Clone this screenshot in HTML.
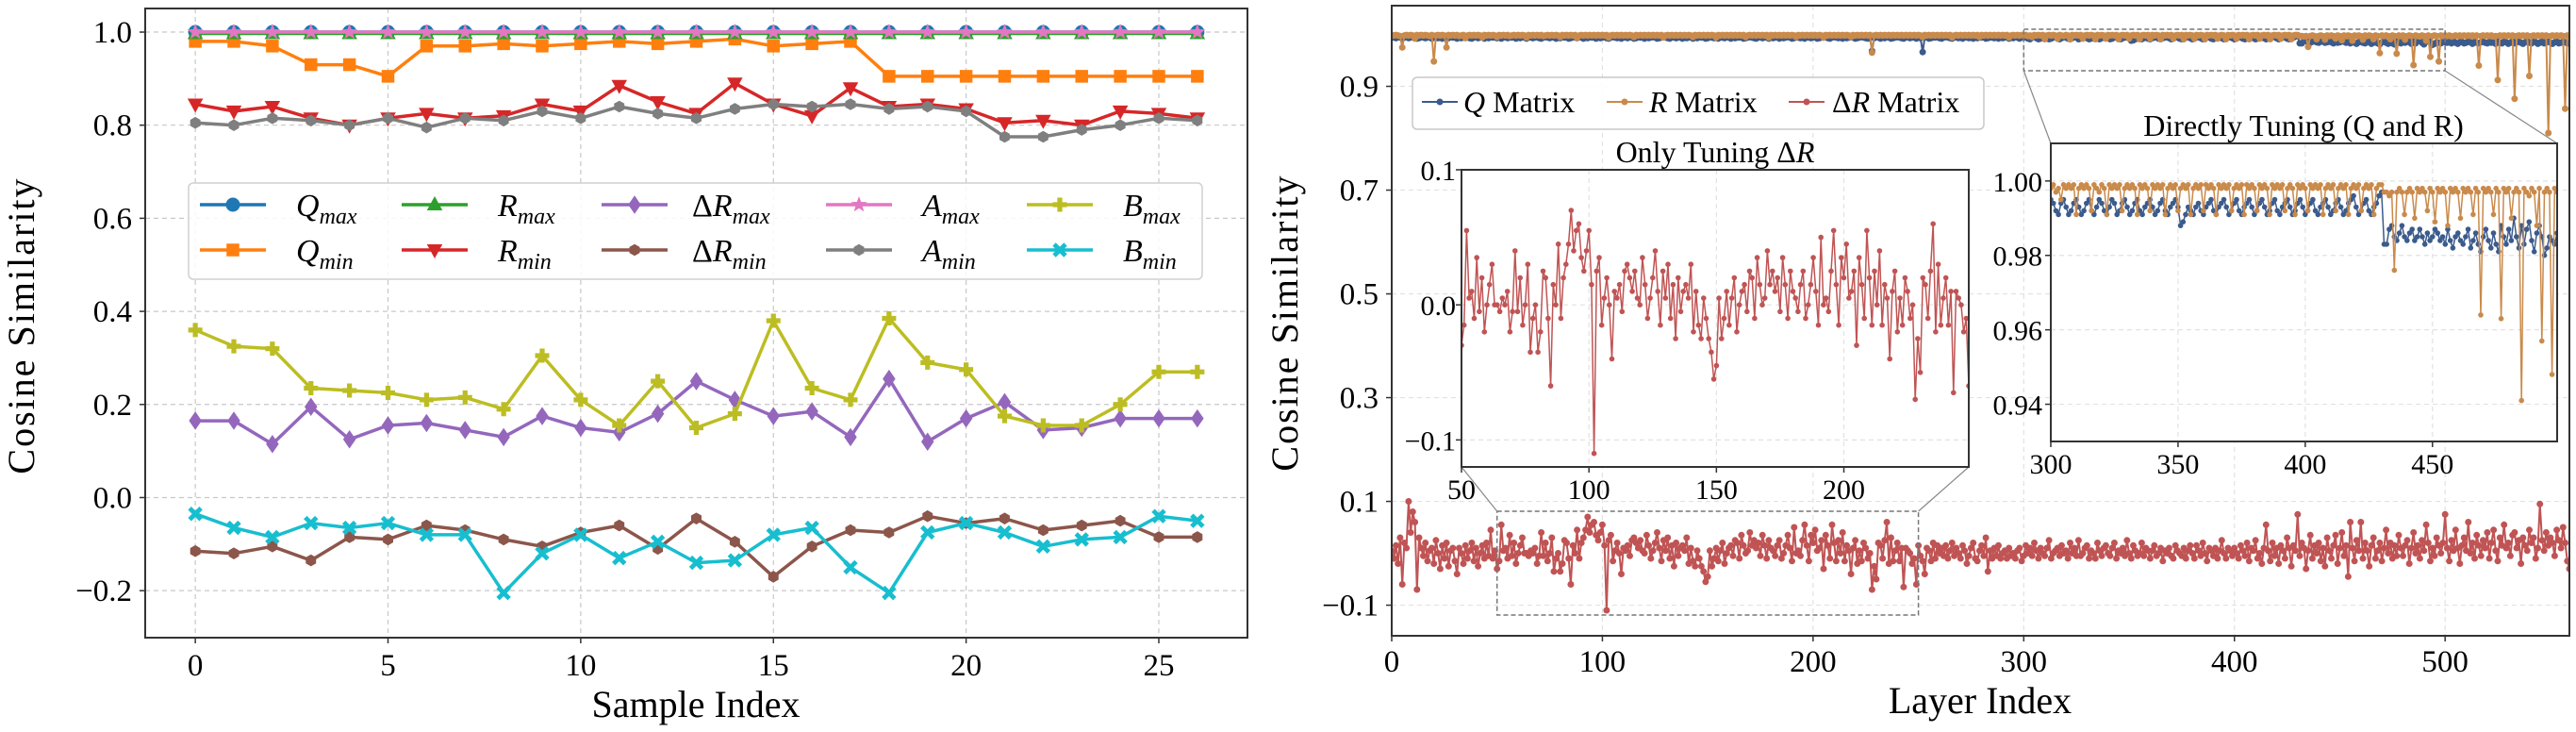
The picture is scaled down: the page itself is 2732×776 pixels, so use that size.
<!DOCTYPE html>
<html><head><meta charset="utf-8"><title>Cosine Similarity</title>
<style>
html,body{margin:0;padding:0;background:#fff;}
svg{display:block;font-family:"Liberation Serif",serif;}
</style></head>
<body>
<svg id="fig" width="2732" height="776" viewBox="0 0 2732 776" xmlns="http://www.w3.org/2000/svg">
<defs>
<clipPath id="clipL"><rect x="154" y="9" width="1169" height="667"/></clipPath>
<clipPath id="clipR"><rect x="1476" y="6" width="1249" height="668"/></clipPath>
<clipPath id="clipI1"><rect x="1550" y="180" width="538" height="315"/></clipPath>
<clipPath id="clipI2"><rect x="2175" y="152" width="537" height="316"/></clipPath>
</defs>
</svg>
<script>
// ===== Left chart data =====
const sampleIdx = [0,1,2,3,4,5,6,7,8,9,10,11,12,13,14,15,16,17,18,19,20,21,22,23,24,25,26];
const qMax = [1,1,1,1,1,1,1,1,1,1,1,1,1,1,1,1,1,1,1,1,1,1,1,1,1,1,1];
const qMin = [0.98,0.98,0.97,0.93,0.93,0.905,0.97,0.97,0.975,0.97,0.975,0.98,0.975,0.98,0.985,0.97,0.975,0.98,0.905,0.905,0.905,0.905,0.905,0.905,0.905,0.905,0.905];
const rMax = [0.997,0.997,0.997,0.997,0.997,0.997,0.997,0.997,0.997,0.997,0.997,0.997,0.997,0.997,0.997,0.997,0.997,0.997,0.997,0.997,0.997,0.997,0.997,0.997,0.997,0.997,0.997];
const rMin = [0.845,0.83,0.84,0.815,0.80,0.815,0.825,0.815,0.82,0.845,0.83,0.885,0.85,0.825,0.89,0.845,0.82,0.88,0.84,0.845,0.835,0.805,0.81,0.80,0.83,0.825,0.815];
const dRMax = [0.165,0.165,0.115,0.195,0.125,0.155,0.16,0.145,0.13,0.175,0.15,0.14,0.18,0.25,0.21,0.175,0.185,0.13,0.255,0.12,0.17,0.205,0.145,0.15,0.17,0.17,0.17];
const dRMin = [-0.115,-0.12,-0.105,-0.135,-0.085,-0.09,-0.06,-0.07,-0.09,-0.105,-0.075,-0.06,-0.11,-0.045,-0.095,-0.17,-0.105,-0.07,-0.075,-0.04,-0.055,-0.045,-0.07,-0.06,-0.05,-0.085,-0.085];
const aMax = [1,1,1,1,1,1,1,1,1,1,1,1,1,1,1,1,1,1,1,1,1,1,1,1,1,1,1];
const aMin = [0.805,0.80,0.815,0.81,0.80,0.815,0.795,0.815,0.81,0.83,0.815,0.84,0.825,0.815,0.835,0.845,0.84,0.845,0.835,0.84,0.83,0.775,0.775,0.79,0.80,0.815,0.81];
const bMax = [0.36,0.325,0.32,0.235,0.23,0.225,0.21,0.215,0.19,0.305,0.21,0.155,0.25,0.15,0.18,0.38,0.235,0.21,0.385,0.29,0.275,0.175,0.155,0.155,0.20,0.27,0.27];
const bMin = [-0.035,-0.065,-0.085,-0.055,-0.065,-0.055,-0.08,-0.08,-0.205,-0.12,-0.08,-0.13,-0.095,-0.14,-0.135,-0.08,-0.065,-0.15,-0.205,-0.075,-0.055,-0.075,-0.105,-0.09,-0.085,-0.04,-0.05];
const leftYTicks = [-0.2,0.0,0.2,0.4,0.6,0.8,1.0];
const leftYTickLabels = ["\u22120.2","0.0","0.2","0.4","0.6","0.8","1.0"];
const leftXTicks = [0,5,10,15,20,25];

// ===== Right chart data (x1000 deficit / value) =====
const dRLayers = [5,-10,15,-20,30,-60,20,10,100,40,80,60,-70,30,10,-5,20,-15,5,10,
-20,25,0,-30,15,-10,20,-25,5,10,-15,-40,10,0,-20,15,-10,5,20,-15,
10,-25,0,15,-10,20,-5,45,-10,5,-30,-15,55,5,10,-10,35,-5,20,-20,
0,15,30,0,0,-5,5,0,10,-20,-5,40,-5,20,-15,0,30,-35,-10,0,
-35,-20,25,20,-10,-60,15,0,45,-10,20,30,45,70,40,55,60,35,25,40,
55,15,-110,25,35,-15,5,20,0,-40,10,5,15,-5,25,30,20,10,25,5,
0,35,15,-10,5,20,40,10,-15,25,5,30,-10,15,-25,20,-5,10,15,5,
30,-20,10,-15,-25,5,-10,-25,-35,-55,-45,5,-25,-10,10,-15,5,20,-20,0,
10,15,-5,25,20,-10,35,15,0,5,40,15,25,10,20,-5,35,15,-10,25,
10,5,-5,15,25,-10,0,15,35,10,-15,50,0,5,-5,25,55,15,-15,35,
20,45,5,10,25,-30,35,15,-10,55,20,-15,25,0,40,-15,15,5,-40,10,
25,-20,5,-15,20,10,-10,0,-70,-25,-50,20,15,-10,25,60,-20,30,-15,5,
20,-15,10,-65,10,5,0,-20,-10,-60,15,-5,-15,-40,10,5,-15,20,-10,15,
0,10,-5,15,-10,5,20,-5,10,0,-10,15,5,-20,-5,10,20,-10,-15,5,
15,-5,30,-35,5,-10,10,-5,15,-10,0,5,-10,10,-5,0,-10,5,10,-15,
-5,15,0,10,-5,20,5,-10,10,0,-5,10,25,-10,0,5,10,-5,15,0,
5,-10,20,0,10,-5,25,-5,0,10,15,-10,5,0,-10,20,5,-5,10,15,
0,-5,10,20,-10,5,0,10,-5,25,0,-10,15,5,-5,0,20,-5,10,5,
-10,5,15,-5,0,10,-15,5,0,10,-5,-10,15,5,0,-5,10,-10,5,15,
0,-10,15,5,-5,20,0,-15,10,5,-5,10,-10,5,25,0,-10,10,5,-5,
10,0,-10,15,5,-5,20,-15,10,5,25,-10,0,-20,10,55,5,-15,20,-5,
10,-20,15,5,-10,30,10,-25,15,5,75,-5,20,10,-30,5,35,-10,15,0,
20,-15,10,-25,30,5,-10,15,35,-20,10,40,-5,15,-45,60,10,-15,25,5,
60,-10,20,5,-25,15,30,-10,5,20,-15,10,45,0,20,-10,15,-5,35,10,
-5,15,25,-20,10,40,0,15,-10,25,5,55,20,-15,10,-5,30,15,0,20,
75,10,-15,25,5,45,10,-20,15,30,5,60,0,20,-10,35,15,-5,25,10,
40,-10,20,45,5,-15,30,15,55,10,20,-5,35,40,10,25,-20,30,15,5,
45,20,30,-10,10,95,25,5,40,15,30,20,-5,45,25,10,50,20,-15,-30];
const qDeficit = [5,6,7,5,6,8,6,5,7,6,5,6,8,7,5,6,7,6,5,8,
6,5,7,6,8,5,6,7,5,6,6,8,5,7,6,5,6,7,8,6,
5,7,6,5,8,6,7,5,6,6,7,5,8,6,5,7,6,6,5,8,
6,7,5,6,8,5,6,7,6,5,7,8,6,5,6,7,5,6,8,6,
7,5,6,6,8,7,5,6,7,5,6,8,6,7,5,6,6,8,5,7,
6,5,7,8,6,5,6,7,5,8,6,6,7,5,6,8,7,5,6,6,
8,5,7,6,5,6,8,7,6,5,6,7,8,5,6,7,6,5,8,6,
7,6,5,8,6,7,5,6,6,8,7,5,6,7,5,8,6,6,7,5,
6,8,5,7,6,6,5,8,7,6,5,6,7,8,6,5,7,6,6,8,
5,7,6,5,8,6,7,6,5,6,8,7,5,6,7,6,8,5,6,7,
6,5,8,7,6,6,5,7,8,6,5,6,7,6,8,5,7,6,5,6,
8,7,6,5,6,7,8,6,32,7,5,6,8,6,7,5,6,8,7,6,
5,6,7,8,6,5,7,6,6,8,5,7,34,6,5,8,7,6,6,5,
7,8,6,5,6,7,8,6,5,7,6,8,5,6,7,6,8,5,7,6,
6,5,8,7,6,6,7,5,8,6,7,6,5,8,6,7,5,6,8,6,
5,6,8,9,6,5,7,9,8,6,5,7,9,8,6,5,8,9,7,5,
6,8,9,7,5,6,9,8,6,5,7,9,8,6,5,8,9,7,6,5,
7,9,8,6,5,8,9,7,6,5,7,12,11,9,7,8,9,7,6,8,
9,7,6,5,8,9,7,6,5,7,9,8,6,5,8,9,7,6,5,7,
9,8,6,5,7,9,8,6,5,8,9,7,6,5,7,9,8,6,5,7,
9,8,6,5,8,9,7,6,5,7,9,8,6,5,7,9,8,6,5,4,
7,9,8,6,5,8,9,7,6,4,3,17,17,13,12,15,16,14,12,15,
16,14,13,16,15,13,15,17,14,16,15,13,14,16,15,17,13,16,18,15,
14,16,17,15,13,18,16,14,17,19,15,13,16,18,14,17,19,12,15,17,
13,16,10,15,18,12,17,13,11,16,19,14,12,15,20,18,15,16,17,14,
15,16,14,17,13,16,18,15,14,17,16,13,15,18,14,16,17,15,13,16,
17,14,16,15,18,13,16,17,14,15,18,16,13,17,15,14,16,18,15,13,
16,17,14,15,18,16,13,17,15,14,16,18,15,13,17,16,14,15,17,16];
const rDeficit = [1,2,1,2,3,25,2,1,2,1,2,8,1,2,1,2,1,2,3,1,
52,2,1,2,1,2,25,1,2,1,2,1,3,2,1,7,2,1,2,1,
2,1,2,6,1,2,1,2,1,2,5,1,2,1,2,1,3,2,1,2,
1,2,1,2,6,1,2,1,2,1,2,1,3,2,1,2,1,2,1,2,
5,1,2,1,2,1,2,1,7,2,1,2,1,2,1,2,1,2,1,2,
1,2,1,6,2,1,2,1,2,1,2,1,2,1,2,5,1,2,1,2,
1,2,1,2,1,2,1,2,1,6,2,1,2,1,2,1,2,1,2,1,
2,1,2,5,1,2,1,2,1,2,1,2,1,2,6,1,2,1,2,1,
2,1,2,1,2,1,2,1,5,2,1,2,1,2,1,2,1,2,1,6,
1,2,1,2,1,2,1,2,1,2,1,2,5,1,2,1,2,1,2,1,
2,1,2,1,2,6,1,2,1,2,1,2,1,2,1,2,1,2,5,1,
2,1,2,1,2,1,2,1,35,2,1,2,1,2,1,2,1,2,1,2,
1,2,1,2,1,2,1,2,1,2,1,2,5,1,2,1,2,1,2,1,
2,1,2,1,2,1,6,2,1,2,1,2,1,2,1,2,1,2,1,5,
1,2,1,2,1,2,1,2,1,2,1,2,1,6,2,1,2,1,2,1,
2,1,3,2,5,1,2,1,2,1,9,2,1,2,1,2,8,1,2,3,
1,2,9,1,2,1,2,1,8,2,1,2,1,2,9,1,2,1,2,8,
1,2,1,2,1,9,2,1,2,1,8,2,1,2,1,9,2,1,2,1,
8,1,2,1,2,9,1,2,1,2,1,8,2,1,2,1,9,1,2,1,
2,8,1,2,1,2,9,1,2,1,2,1,8,2,1,2,9,1,2,1,
2,8,1,2,1,2,1,9,2,1,2,1,8,2,1,2,1,9,2,1,
2,1,8,2,1,2,1,9,2,1,1,3,3,4,3,24,3,2,3,9,
3,2,3,10,2,3,2,3,8,2,3,11,2,3,2,3,12,2,3,2,
3,10,2,3,2,3,9,2,3,36,2,3,2,3,9,2,3,37,2,3,
2,10,3,2,3,59,2,3,4,2,3,12,2,43,3,2,3,52,2,3,
2,3,2,4,3,2,3,2,3,2,3,2,3,2,3,2,60,3,2,3,
2,3,2,4,3,88,2,3,2,3,2,3,2,124,3,2,3,2,3,2,
80,3,2,3,2,3,2,3,2,190,3,2,3,2,3,2,3,143,2,3];
const rightYTicks = [-0.1,0.1,0.3,0.5,0.7,0.9];
const rightYTickLabels = ["\u22120.1","0.1","0.3","0.5","0.7","0.9"];
const rightXTicks = [0,100,200,300,400,500];
const inset1YTicks = [-0.1,0.0,0.1];
const inset1YTickLabels = ["\u22120.1","0.0","0.1"];
const inset1XTicks = [50,100,150,200];
const inset2YTicks = [0.94,0.96,0.98,1.00];
const inset2YTickLabels = ["0.94","0.96","0.98","1.00"];
const inset2XTicks = [300,350,400,450];

const NS = "http://www.w3.org/2000/svg";
const svg = document.getElementById('fig');
function mk(tag, attrs, parent){
  const e = document.createElementNS(NS, tag);
  for (const k in attrs) e.setAttribute(k, attrs[k]);
  (parent||svg).appendChild(e);
  return e;
}
function lin(d0,d1,p0,p1){ return v => p0 + (v-d0)*(p1-p0)/(d1-d0); }
function pathD(xs, ys, fx, fy){ return xs.map((x,i)=>(i?'L':'M')+fx(x).toFixed(1)+','+fy(ys[i]).toFixed(1)).join(''); }

function marker(g, shape, cx, cy, s, color){
  let e;
  if (shape==='circle'){ e = mk('circle',{cx:cx,cy:cy,r:s*0.5,fill:color},g); }
  else if (shape==='square'){ e = mk('rect',{x:cx-s*0.45,y:cy-s*0.45,width:s*0.9,height:s*0.9,fill:color},g); }
  else if (shape==='tri-up'){ e = mk('polygon',{points:`${cx},${cy-s*0.6} ${cx-s*0.55},${cy+s*0.4} ${cx+s*0.55},${cy+s*0.4}`,fill:color},g); }
  else if (shape==='tri-down'){ e = mk('polygon',{points:`${cx},${cy+s*0.6} ${cx-s*0.55},${cy-s*0.4} ${cx+s*0.55},${cy-s*0.4}`,fill:color},g); }
  else if (shape==='diamond'){ e = mk('polygon',{points:`${cx},${cy-s*0.65} ${cx+s*0.45},${cy} ${cx},${cy+s*0.65} ${cx-s*0.45},${cy}`,fill:color},g); }
  else if (shape==='hex'){ const p=[]; for(let k=0;k<6;k++){const a=Math.PI/6+k*Math.PI/3;p.push((cx+Math.cos(a)*s*0.42).toFixed(1)+','+(cy+Math.sin(a)*s*0.42).toFixed(1));} e = mk('polygon',{points:p.join(' '),fill:color},g); }
  else if (shape==='star'){ const p=[]; for(let k=0;k<10;k++){const a=-Math.PI/2+k*Math.PI/5;const r=k%2?s*0.25:s*0.6;p.push((cx+Math.cos(a)*r).toFixed(1)+','+(cy+Math.sin(a)*r).toFixed(1));} e = mk('polygon',{points:p.join(' '),fill:color},g); }
  else if (shape==='plus'){ e = mk('path',{d:`M${cx-s*0.5},${cy}H${cx+s*0.5}M${cx},${cy-s*0.5}V${cy+s*0.5}`,stroke:color,'stroke-width':s*0.35},g); }
  else { e = mk('path',{d:`M${cx-s*0.4},${cy-s*0.4}L${cx+s*0.4},${cy+s*0.4}M${cx-s*0.4},${cy+s*0.4}L${cx+s*0.4},${cy-s*0.4}`,stroke:color,'stroke-width':s*0.32},g); }
  return e;
}

function text(str, x, y, size, anchor, parent){
  const t = mk('text',{x:x,y:y,'font-size':size,'text-anchor':anchor||'middle',fill:'#000'},parent);
  t.textContent = str;
  return t;
}

// ================= LEFT CHART =================
const xL = lin(-1.3,27.3,154,1323);
const yL = lin(-0.301,1.0507,676,9);
const gL = mk('g',{});


const gridL = mk('g',{stroke:'#c8c8c8','stroke-width':1.2,'stroke-dasharray':'5,4'},gL);


leftXTicks.forEach(v=>mk('line',{x1:xL(v),x2:xL(v),y1:9,y2:676},gridL));
leftYTicks.forEach(v=>mk('line',{x1:154,x2:1323,y1:yL(v),y2:yL(v)},gridL));

const leftSeries = [
 {name:'q-max', vals:qMax, color:'#1f77b4', shape:'circle', sub:'max', sym:'Q'},
 {name:'q-min', vals:qMin, color:'#ff7f0e', shape:'square', sub:'min', sym:'Q'},
 {name:'r-max', vals:rMax, color:'#2ca02c', shape:'tri-up', sub:'max', sym:'R'},
 {name:'r-min', vals:rMin, color:'#d62728', shape:'tri-down', sub:'min', sym:'R'},
 {name:'delta-r-max', vals:dRMax, color:'#9467bd', shape:'diamond', sub:'max', sym:'R', delta:true},
 {name:'delta-r-min', vals:dRMin, color:'#8c564b', shape:'hex', sub:'min', sym:'R', delta:true},
 {name:'a-max', vals:aMax, color:'#e377c2', shape:'star', sub:'max', sym:'A'},
 {name:'a-min', vals:aMin, color:'#7f7f7f', shape:'hex', sub:'min', sym:'A'},
 {name:'b-max', vals:bMax, color:'#bcbd22', shape:'plus', sub:'max', sym:'B'},
 {name:'b-min', vals:bMin, color:'#17becf', shape:'x', sub:'min', sym:'B'}
];
const plotL = mk('g',{'clip-path':'url(#clipL)'},gL);
leftSeries.forEach(s=>{
  const g = mk('g',{},plotL);
  
  
  const p = mk('path',{d:pathD(sampleIdx,s.vals,xL,yL),fill:'none',stroke:s.color,'stroke-width':3.5,'stroke-linejoin':'round'},g);
  
  
  sampleIdx.forEach((x,i)=>{
    const m = marker(g,s.shape,xL(x),yL(s.vals[i]),15,s.color);
    
    
  });
});
const frameL = mk('rect',{x:154,y:9,width:1169,height:667,fill:'none',stroke:'#333','stroke-width':2},gL);


const yTL = mk('g',{},gL);


leftYTicks.forEach((v,i)=>{ mk('line',{x1:148,x2:154,y1:yL(v),y2:yL(v),stroke:'#333','stroke-width':1.5},yTL); text(leftYTickLabels[i],140,yL(v)+11,33,'end',yTL); });
const xTL = mk('g',{},gL);


leftXTicks.forEach(v=>{ mk('line',{x1:xL(v),x2:xL(v),y1:676,y2:682,stroke:'#333','stroke-width':1.5},xTL); text(String(v),xL(v),716,33,'middle',xTL); });
const xlabL = text('Sample Index',738,760,40,'middle',gL);


const ylabL = text('Cosine Similarity',0,0,40,'middle',gL);
ylabL.setAttribute('transform','translate(36,345) rotate(-90)');
ylabL.setAttribute('letter-spacing','2');



// left legend
const legL = mk('g',{},gL);


mk('rect',{x:200,y:194,width:1075,height:102,rx:5,fill:'#fff','fill-opacity':0.85,stroke:'#d0d0d0','stroke-width':1.5},legL);
const legColX = [212,426,638,876,1089];
const legRowY = [217,265];
leftSeries.forEach((s,i)=>{
  const col = Math.floor(i/2), row = i%2;
  const e = mk('g',{},legL);
  
  
  const x0 = legColX[col], y0 = legRowY[row];
  mk('line',{x1:x0,x2:x0+70,y1:y0,y2:y0,stroke:s.color,'stroke-width':3.5},e);
  marker(e,s.shape,x0+35,y0,15,s.color);
  const t = mk('text',{x:x0+(s.delta?96:102),y:y0+12,'font-size':34,fill:'#000'},e);
  if (s.delta){ const d=mk('tspan',{},t); d.textContent='\u0394'; }
  const a = mk('tspan',{'font-style':'italic'},t); a.textContent = s.sym;
  const b = mk('tspan',{'font-style':'italic','font-size':24,dy:8},t); b.textContent = s.sub;
});

// ================= RIGHT CHART =================
const nL = dRLayers.length;
const layers = dRLayers.map((_,i)=>i);
const dRVals = dRLayers.map(v=>v/1000);
const qVals = qDeficit.map(v=>1-v/1000);
const rVals = rDeficit.map(v=>1-v/1000);
const xR = lin(0,559,1476,2725);
const yR = lin(-0.159,1.0555,674,6);
const QC='#3b5b8c', RC='#c98a4b', DC='#c05454';

const gR = mk('g',{});


const gridR = mk('g',{stroke:'#e2e2e2','stroke-width':1.2,'stroke-dasharray':'5,4'},gR);


rightXTicks.forEach(v=>mk('line',{x1:xR(v),x2:xR(v),y1:6,y2:674},gridR));
rightYTicks.forEach(v=>mk('line',{x1:1476,x2:2725,y1:yR(v),y2:yR(v)},gridR));

function drawSeries(parent, xs, ys, fx, fy, color, lw, r, name){
  const g = mk('g',{},parent);
  
  
  mk('path',{d:pathD(xs,ys,fx,fy),fill:'none',stroke:color,'stroke-width':lw,'stroke-linejoin':'round'},g);
  xs.forEach((x,i)=>{ mk('circle',{cx:fx(x).toFixed(1),cy:fy(ys[i]).toFixed(1),r:r,fill:color},g); });
  return g;
}
const plotR = mk('g',{'clip-path':'url(#clipR)'},gR);
drawSeries(plotR,layers,qVals,xR,yR,QC,2,3.5,'series-q-matrix');
drawSeries(plotR,layers,rVals,xR,yR,RC,2,3.5,'series-r-matrix');
drawSeries(plotR,layers,dRVals,xR,yR,DC,2,3.5,'series-delta-r-matrix');

// zoom boxes & connectors
const zoomG = mk('g',{fill:'none',stroke:'#777','stroke-width':1.5,'stroke-dasharray':'5,3'},gR);


mk('rect',{x:xR(50),y:542,width:xR(250)-xR(50),height:110},zoomG);
mk('rect',{x:xR(300),y:31,width:xR(500)-xR(300),height:44},zoomG);
const conG = mk('g',{stroke:'#888','stroke-width':1.2},gR);


mk('line',{x1:xR(50),y1:542,x2:1550,y2:495},conG);
mk('line',{x1:xR(250),y1:542,x2:2088,y2:495},conG);
mk('line',{x1:xR(300),y1:75,x2:2175,y2:152},conG);
mk('line',{x1:xR(500),y1:75,x2:2712,y2:152},conG);

const frameR = mk('rect',{x:1476,y:6,width:1249,height:668,fill:'none',stroke:'#333','stroke-width':2},gR);


const yTR = mk('g',{},gR);


rightYTicks.forEach((v,i)=>{ mk('line',{x1:1470,x2:1476,y1:yR(v),y2:yR(v),stroke:'#333','stroke-width':1.5},yTR); text(rightYTickLabels[i],1462,yR(v)+11,33,'end',yTR); });
const xTR = mk('g',{},gR);


rightXTicks.forEach(v=>{ mk('line',{x1:xR(v),x2:xR(v),y1:674,y2:680,stroke:'#333','stroke-width':1.5},xTR); text(String(v),xR(v),712,33,'middle',xTR); });
const xlabR = text('Layer Index',2100,756,40,'middle',gR);


const ylabR = text('Cosine Similarity',0,0,40,'middle',gR);
ylabR.setAttribute('transform','translate(1376,342) rotate(-90)');
ylabR.setAttribute('letter-spacing','2');



// right legend
const legR = mk('g',{},gR);


mk('rect',{x:1498,y:82,width:606,height:55,rx:5,fill:'#fff','fill-opacity':0.9,stroke:'#c8c8c8','stroke-width':1.5},legR);
[[1508,1552,QC,'Q',false,'q-matrix'],[1704,1749,RC,'R',false,'r-matrix'],[1897,1943,DC,'R',true,'delta-r-matrix']].forEach(d=>{
  const e = mk('g',{},legR);
  
  
  mk('line',{x1:d[0],x2:d[0]+38,y1:108,y2:108,stroke:d[2],'stroke-width':2},e);
  mk('circle',{cx:d[0]+19,cy:108,r:3.5,fill:d[2]},e);
  const t = mk('text',{x:d[1],y:119,'font-size':32,fill:'#000'},e);
  if (d[4]){ const s=mk('tspan',{},t); s.textContent='\u0394'; }
  const a = mk('tspan',{'font-style':'italic'},t); a.textContent=d[3];
  const b = mk('tspan',{},t); b.textContent=' Matrix';
});

// ---- inset 1: Only Tuning ΔR ----
const xI1 = lin(50,249,1550,2088);
const yI1 = lin(-0.12,0.1,495,180);
const gI1 = mk('g',{},gR);


mk('rect',{x:1550,y:180,width:538,height:315,fill:'#fff'},gI1);
const gridI1 = mk('g',{stroke:'#e2e2e2','stroke-width':1.2,'stroke-dasharray':'5,4'},gI1);
inset1XTicks.forEach(v=>mk('line',{x1:xI1(v),x2:xI1(v),y1:180,y2:495},gridI1));
inset1YTicks.forEach(v=>mk('line',{x1:1550,x2:2088,y1:yI1(v),y2:yI1(v)},gridI1));
const pI1 = mk('g',{'clip-path':'url(#clipI1)'},gI1);
const l1 = layers.slice(50,250), v1 = dRVals.slice(50,250);
drawSeries(pI1,l1,v1,xI1,yI1,DC,1.5,2.8,'inset1-series-delta-r');
mk('rect',{x:1550,y:180,width:538,height:315,fill:'none',stroke:'#333','stroke-width':2},gI1);
inset1YTicks.forEach((v,i)=>{ mk('line',{x1:1544,x2:1550,y1:yI1(v),y2:yI1(v),stroke:'#333','stroke-width':1.5},gI1); text(inset1YTickLabels[i],1544,yI1(v)+11,30,'end',gI1); });
inset1XTicks.forEach(v=>{ mk('line',{x1:xI1(v),x2:xI1(v),y1:495,y2:501,stroke:'#333','stroke-width':1.5},gI1); text(String(v),xI1(v),529,30,'middle',gI1); });
const t1 = mk('text',{x:1819,y:172,'font-size':32,'text-anchor':'middle',fill:'#000'},gI1);


const t1a = mk('tspan',{},t1); t1a.textContent='Only Tuning \u0394';
const t1b = mk('tspan',{'font-style':'italic'},t1); t1b.textContent='R';

// ---- inset 2: Directly Tuning (Q and R) ----
const xI2 = lin(300,499,2175,2712);
const yI2 = lin(0.930,1.0101,468,152);
const gI2 = mk('g',{},gR);


mk('rect',{x:2175,y:152,width:537,height:316,fill:'#fff'},gI2);
const gridI2 = mk('g',{stroke:'#e2e2e2','stroke-width':1.2,'stroke-dasharray':'5,4'},gI2);
inset2XTicks.forEach(v=>mk('line',{x1:xI2(v),x2:xI2(v),y1:152,y2:468},gridI2));
inset2YTicks.forEach(v=>mk('line',{x1:2175,x2:2712,y1:yI2(v),y2:yI2(v)},gridI2));
const pI2 = mk('g',{'clip-path':'url(#clipI2)'},gI2);
const l2 = layers.slice(300,500);
drawSeries(pI2,l2,qVals.slice(300,500),xI2,yI2,QC,1.5,2.8,'inset2-series-q');
drawSeries(pI2,l2,rVals.slice(300,500),xI2,yI2,RC,1.5,2.8,'inset2-series-r');
mk('rect',{x:2175,y:152,width:537,height:316,fill:'none',stroke:'#333','stroke-width':2},gI2);
inset2YTicks.forEach((v,i)=>{ mk('line',{x1:2169,x2:2175,y1:yI2(v),y2:yI2(v),stroke:'#333','stroke-width':1.5},gI2); text(inset2YTickLabels[i],2166,yI2(v)+11,30,'end',gI2); });
inset2XTicks.forEach(v=>{ mk('line',{x1:xI2(v),x2:xI2(v),y1:468,y2:474,stroke:'#333','stroke-width':1.5},gI2); text(String(v),xI2(v),502,30,'middle',gI2); });
const t2 = text('Directly Tuning (Q and R)',2443,144,32,'middle',gI2);


</script>
</body></html>
